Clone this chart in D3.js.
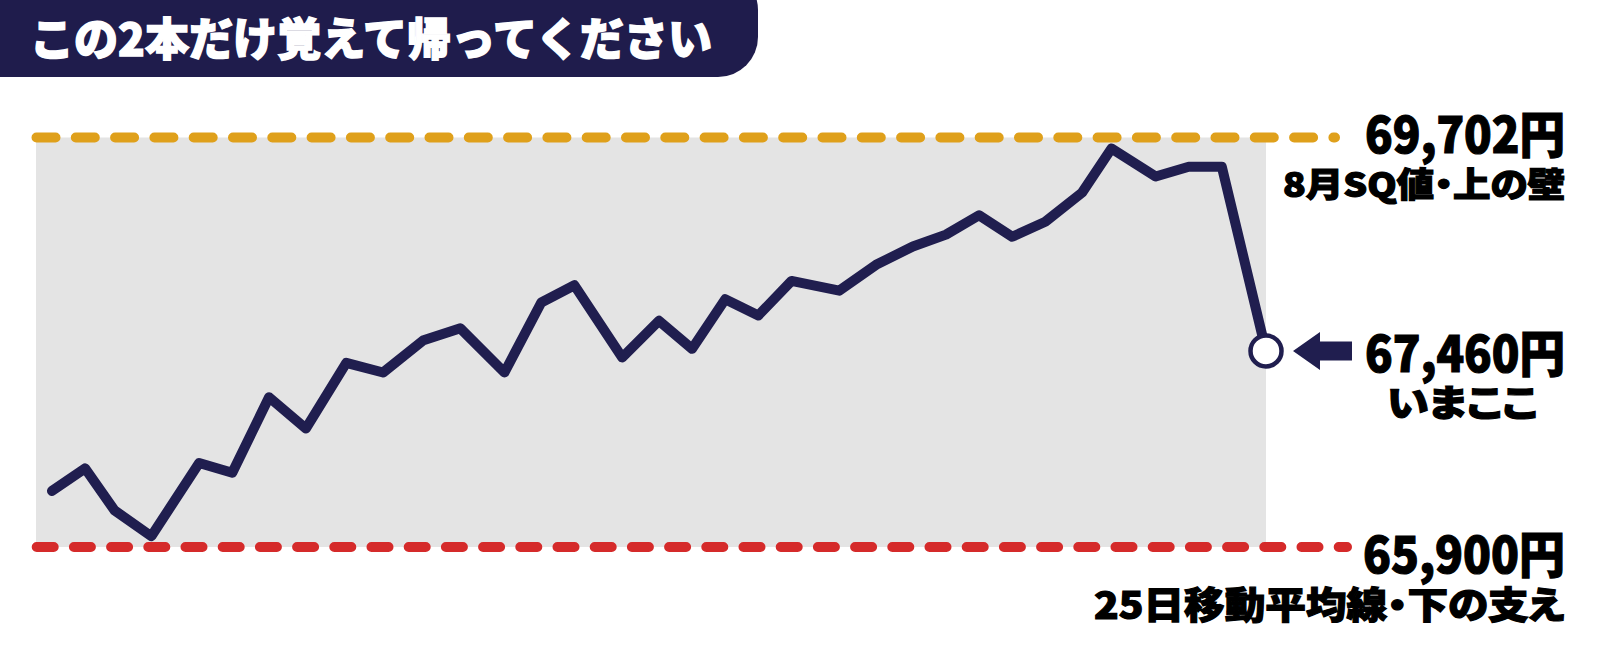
<!DOCTYPE html>
<html>
<head>
<meta charset="utf-8">
<script src="https://cdn.jsdelivr.net/npm/d3@7"></script>
<style>
  html, body { margin: 0; padding: 0; background: #ffffff; }
  svg { display: block; }
  text { font-family: "Noto Sans CJK JP", "Noto Sans", sans-serif; }
  text.lbl { font-feature-settings: "palt" 1; }
</style>
</head>
<body>
<svg id="chart" width="1600" height="656"></svg>
<script>
// ---- data ----
const titleText = "この2本だけ覚えて帰ってください";
// session position (trading-day axis) and price (yen)
const sessionPos = [0, 0.9, 1.7, 2.7, 4.0, 4.9, 5.9, 6.9, 8.0, 9.0, 10.1, 11.1, 12.3, 13.3, 14.2, 15.5, 16.5,
  17.4, 18.3, 19.2, 20.1, 21.4, 22.4, 23.4, 24.3, 25.2, 26.1, 27.0, 28.0, 28.8, 30.0, 30.9, 31.8, 33.0];
const priceValues = [66420, 66630, 66240, 66000, 66680, 66590, 67290, 67000, 67610, 67520, 67820, 67930, 67520,
  68170, 68330, 67660, 68000, 67740, 68200, 68050, 68370, 68280, 68520, 68690, 68800, 68980, 68780, 68920,
  69190, 69600, 69340, 69430, 69430, 67720];
const upperLevel = 69702;
const lowerLevel = 65900;
const upperLabel = "69,702円";
const upperNote = "8月SQ値・上の壁";
const currentLabel = "67,460円";
const currentNote = "いまここ";
const lowerLabel = "65,900円";
const lowerNote = "25日移動平均線・下の支え";

// ---- layout / style ----
const W = 1600, H = 656;
const navy = "#201e4f";
const orange = "#dfa01b";
const red = "#d52a2a";
const svg = d3.select("#chart");

const x = d3.scaleLinear().domain([0, 33]).range([52, 1266]);
const y = d3.scaleLinear().domain([lowerLevel, upperLevel]).range([547, 137.5]);

// title banner (pill end on the right)
const bw = 758, bTop = -30, bBot = 77, r = 40;
svg.append("path")
  .attr("d", `M0,${bTop} H${bw - r} A${r},${r} 0 0 1 ${bw},${bTop + r} V${bBot - r} A${r},${r} 0 0 1 ${bw - r},${bBot} H0 Z`)
  .attr("fill", "#1f1c4c");
svg.append("text")
  .attr("x", 30).attr("y", 56)
  .attr("fill", "#ffffff")
  .attr("stroke", "#ffffff").attr("stroke-width", 1.4)
  .attr("font-size", 45)
  .attr("font-weight", 900)
  .attr("textLength", 682).attr("lengthAdjust", "spacingAndGlyphs")
  .text(titleText);

// gray band between the two levels
svg.append("rect")
  .attr("x", 36).attr("y", y(upperLevel))
  .attr("width", x(33) - 36)
  .attr("height", y(lowerLevel) - y(upperLevel))
  .attr("fill", "#e4e4e4");

// dashed levels
svg.append("line")
  .attr("x1", 36.5).attr("x2", 1335)
  .attr("y1", y(upperLevel)).attr("y2", y(upperLevel))
  .attr("stroke", orange).attr("stroke-width", 10)
  .attr("stroke-linecap", "round")
  .attr("stroke-dasharray", "19 20.3");
svg.append("line")
  .attr("x1", 36.7).attr("x2", 1347)
  .attr("y1", y(lowerLevel)).attr("y2", y(lowerLevel))
  .attr("stroke", red).attr("stroke-width", 10)
  .attr("stroke-linecap", "round")
  .attr("stroke-dasharray", "17 20.2");

// price line
const pts = sessionPos.map((s, i) => [s, priceValues[i]]);
svg.append("path")
  .datum(pts)
  .attr("d", d3.line().x(d => x(d[0])).y(d => y(d[1])))
  .attr("fill", "none")
  .attr("stroke", navy)
  .attr("stroke-width", 10)
  .attr("stroke-linejoin", "round")
  .attr("stroke-linecap", "round");

// current point marker
const last = pts[pts.length - 1];
const cx = x(last[0]), cy = y(last[1]);
svg.append("circle")
  .attr("cx", cx).attr("cy", cy).attr("r", 15.5)
  .attr("fill", "#ffffff")
  .attr("stroke", navy).attr("stroke-width", 4.5);

// arrow pointing to the marker
svg.append("path")
  .attr("d", `M${cx + 27},${cy} L${cx + 54},${cy - 19} L${cx + 54},${cy - 9.5} L${cx + 86},${cy - 9.5} L${cx + 86},${cy + 9.5} L${cx + 54},${cy + 9.5} L${cx + 54},${cy + 19} Z`)
  .attr("fill", navy);

// labels (start x, baseline y, size, ink width)
function label(txt, xx, yy, size, len) {
  svg.append("text")
    .attr("class", "lbl")
    .attr("x", xx).attr("y", yy)
    .attr("font-size", size)
    .attr("font-weight", 900)
    .attr("fill", "#000000")
    .attr("stroke", "#000000").attr("stroke-width", 1.2)
    .attr("textLength", len).attr("lengthAdjust", "spacingAndGlyphs")
    .text(txt);
}
label(upperLabel, 1365, y(upperLevel) + 15.5, 50, 200);
label(upperNote, 1283, y(upperLevel) + 59, 34, 282);
label(currentLabel, 1365, cy + 21, 50, 200);
label(currentNote, 1387, cy + 66, 37, 151);
label(lowerLabel, 1363, y(lowerLevel) + 26, 50, 202);
label(lowerNote, 1094, y(lowerLevel) + 72, 37, 471);
</script>
</body>
</html>
